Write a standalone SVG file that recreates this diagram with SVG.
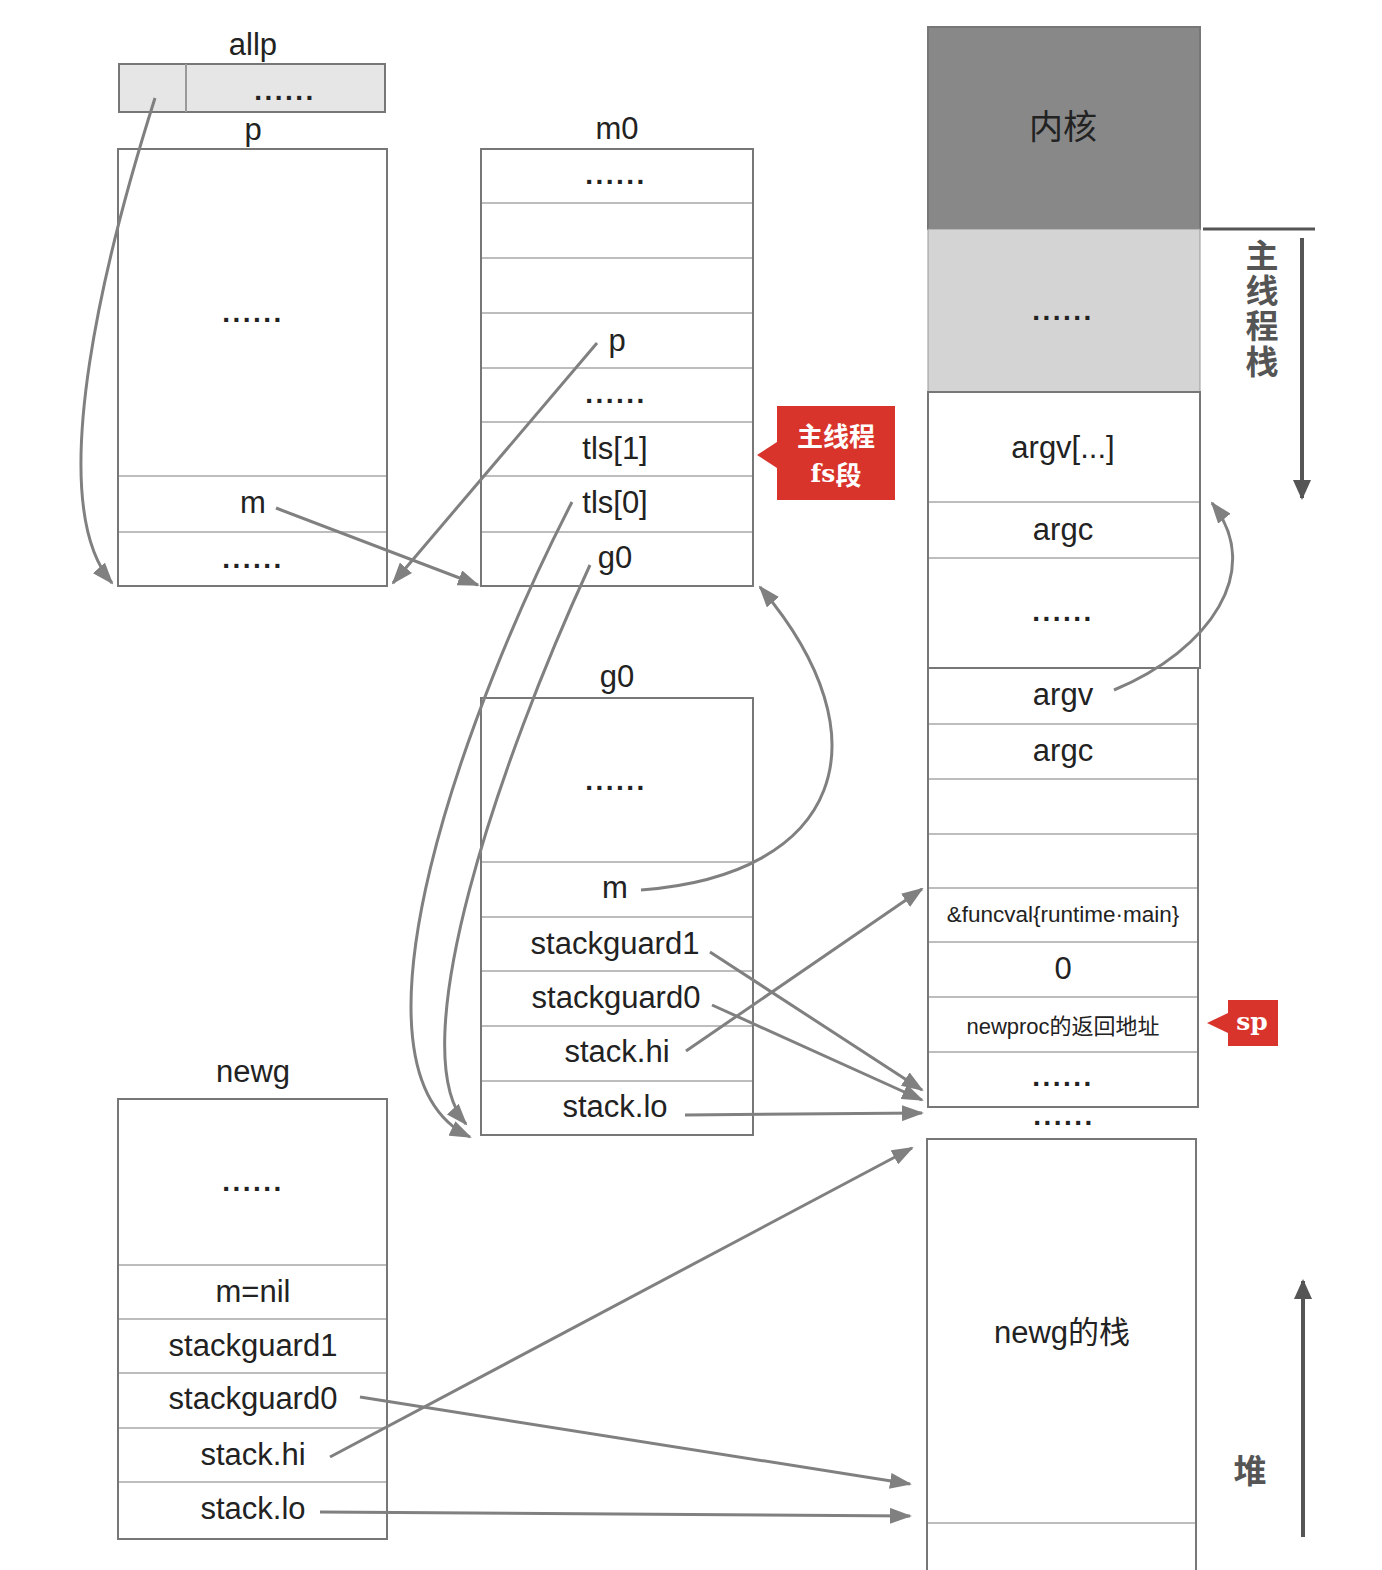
<svg xmlns="http://www.w3.org/2000/svg" width="1382" height="1570" viewBox="0 0 1382 1570">
<defs>
<style>
.box{fill:#fff;stroke:#777;stroke-width:2}
.div{stroke:#bdbdbd;stroke-width:2}
.t{font-family:"Liberation Sans","Noto Sans CJK SC",sans-serif;font-size:31px;fill:#222;text-anchor:middle;dominant-baseline:central}
.d{letter-spacing:2.5px;font-weight:bold;font-size:28px}
.c{fill:none;stroke:#808080;stroke-width:3}
.red{fill:#d9342b}
.w{font-family:"DejaVu Serif","Liberation Serif","Noto Sans CJK SC",serif;font-weight:bold;font-size:25px;fill:#fff;text-anchor:middle;dominant-baseline:central}
.ax{stroke:#555;stroke-width:4;fill:none}
.v{font-size:33px;fill:#555;font-weight:bold}
</style>
<marker id="ah" markerWidth="22" markerHeight="16" refX="20" refY="8" orient="auto" markerUnits="userSpaceOnUse">
<path d="M0,0 L22,8 L0,16 Z" fill="#808080"/>
</marker>
<marker id="ad" markerWidth="20" markerHeight="18" refX="18" refY="9" orient="auto" markerUnits="userSpaceOnUse">
<path d="M0,0 L20,9 L0,18 Z" fill="#555"/>
</marker>
</defs>

<g id="allp">
<text class="t" x="253" y="44">allp</text>
<rect x="119" y="64" width="266" height="48" fill="#e6e6e6" stroke="#777" stroke-width="2"/>
<line x1="186" y1="64" x2="186" y2="112" class="div" style="stroke:#999"/>
<text class="t d" x="285" y="90">......</text>
</g>

<g id="p">
<text class="t" x="253" y="129">p</text>
<rect class="box" x="118" y="149" width="269" height="437"/>
<line class="div" x1="119" y1="476" x2="386" y2="476"/>
<line class="div" x1="119" y1="532" x2="386" y2="532"/>
<text class="t d" x="253" y="312">......</text>
<text class="t" x="253" y="502">m</text>
<text class="t d" x="253" y="558">......</text>
</g>

<g id="m0">
<text class="t" x="617" y="128">m0</text>
<rect class="box" x="481" y="149" width="272" height="437"/>
<line class="div" x1="482" y1="203" x2="752" y2="203"/>
<line class="div" x1="482" y1="258" x2="752" y2="258"/>
<line class="div" x1="482" y1="313" x2="752" y2="313"/>
<line class="div" x1="482" y1="368" x2="752" y2="368"/>
<line class="div" x1="482" y1="422" x2="752" y2="422"/>
<line class="div" x1="482" y1="476" x2="752" y2="476"/>
<line class="div" x1="482" y1="532" x2="752" y2="532"/>
<text class="t d" x="616" y="174">......</text>
<text class="t" x="617" y="340">p</text>
<text class="t d" x="616" y="393">......</text>
<text class="t" x="615" y="448">tls[1]</text>
<text class="t" x="615" y="502">tls[0]</text>
<text class="t" x="615" y="557">g0</text>
</g>

<g id="fs-callout">
<path class="red" d="M777,406 L895,406 L895,500 L777,500 L777,468 L757,455 L777,442 Z"/>
<text class="w" x="836" y="434" style="font-family:'Noto Sans CJK SC',sans-serif;font-size:26px">主线程</text>
<text class="w" x="836" y="473">fs<tspan style="font-family:'Noto Sans CJK SC',sans-serif;font-size:26px">段</tspan></text>
</g>

<g id="g0">
<text class="t" x="617" y="676">g0</text>
<rect class="box" x="481" y="698" width="272" height="437"/>
<line class="div" x1="482" y1="862" x2="752" y2="862"/>
<line class="div" x1="482" y1="917" x2="752" y2="917"/>
<line class="div" x1="482" y1="971" x2="752" y2="971"/>
<line class="div" x1="482" y1="1026" x2="752" y2="1026"/>
<line class="div" x1="482" y1="1081" x2="752" y2="1081"/>
<text class="t d" x="616" y="780">......</text>
<text class="t" x="615" y="887">m</text>
<text class="t" x="615" y="943">stackguard1</text>
<text class="t" x="616" y="997">stackguard0</text>
<text class="t" x="617" y="1051">stack.hi</text>
<text class="t" x="615" y="1106">stack.lo</text>
</g>

<g id="newg">
<text class="t" x="253" y="1071">newg</text>
<rect class="box" x="118" y="1099" width="269" height="440"/>
<line class="div" x1="119" y1="1265" x2="386" y2="1265"/>
<line class="div" x1="119" y1="1319" x2="386" y2="1319"/>
<line class="div" x1="119" y1="1373" x2="386" y2="1373"/>
<line class="div" x1="119" y1="1428" x2="386" y2="1428"/>
<line class="div" x1="119" y1="1482" x2="386" y2="1482"/>
<text class="t d" x="253" y="1181">......</text>
<text class="t" x="253" y="1291">m=nil</text>
<text class="t" x="253" y="1345">stackguard1</text>
<text class="t" x="253" y="1398">stackguard0</text>
<text class="t" x="253" y="1454">stack.hi</text>
<text class="t" x="253" y="1508">stack.lo</text>
</g>

<g id="kernel">
<rect x="928" y="27" width="272" height="202" fill="#888" stroke="#777" stroke-width="2"/>
<text class="t" x="1063" y="127" style="font-size:34px">内核</text>
</g>

<g id="main-stack-top">
<rect x="928" y="229" width="272" height="163" fill="#d4d4d4" stroke="#999" stroke-width="1"/>
<text class="t d" x="1063" y="310">......</text>
<rect class="box" x="928" y="392" width="272" height="276"/>
<line class="div" x1="929" y1="502" x2="1199" y2="502"/>
<line class="div" x1="929" y1="558" x2="1199" y2="558"/>
<text class="t" x="1063" y="447">argv[...]</text>
<text class="t" x="1063" y="529">argc</text>
<text class="t d" x="1063" y="611">......</text>
</g>

<g id="main-stack-frame">
<rect class="box" x="928" y="668" width="270" height="439"/>
<line class="div" x1="929" y1="724" x2="1197" y2="724"/>
<line class="div" x1="929" y1="779" x2="1197" y2="779"/>
<line class="div" x1="929" y1="834" x2="1197" y2="834"/>
<line class="div" x1="929" y1="888" x2="1197" y2="888"/>
<line class="div" x1="929" y1="942" x2="1197" y2="942"/>
<line class="div" x1="929" y1="997" x2="1197" y2="997"/>
<line class="div" x1="929" y1="1052" x2="1197" y2="1052"/>
<text class="t" x="1063" y="694">argv</text>
<text class="t" x="1063" y="750">argc</text>
<text class="t" x="1063" y="914" style="font-size:22.5px">&amp;funcval{runtime·main}</text>
<text class="t" x="1063" y="968">0</text>
<text class="t" x="1063" y="1026" style="font-size:22px">newproc的返回地址</text>
<text class="t d" x="1063" y="1076">......</text>
<text class="t d" x="1064" y="1115">......</text>
</g>

<g id="sp-callout">
<path class="red" d="M1228,1000 L1278,1000 L1278,1046 L1228,1046 L1228,1033 L1207,1023 L1228,1013 Z"/>
<text class="w" x="1252" y="1021">sp</text>
</g>

<g id="newg-stack">
<path d="M927,1570 L927,1139 L1196,1139 L1196,1570" fill="#fff" stroke="#777" stroke-width="2"/>
<line class="div" x1="928" y1="1523" x2="1195" y2="1523"/>
<text class="t" x="1062" y="1332">newg的栈</text>
</g>

<g id="main-thread-stack-label">
<line x1="1203" y1="229" x2="1315" y2="229" stroke="#555" stroke-width="3"/>
<line class="ax" x1="1302" y1="238" x2="1302" y2="498" marker-end="url(#ad)"/>
<text class="t v" x="1262" y="256">主</text>
<text class="t v" x="1262" y="291">线</text>
<text class="t v" x="1262" y="326">程</text>
<text class="t v" x="1262" y="362">栈</text>
</g>

<g id="heap-label">
<line class="ax" x1="1303" y1="1537" x2="1303" y2="1281" marker-end="url(#ad)"/>
<text class="t v" x="1250" y="1471">堆</text>
</g>

<g id="connectors">
<path class="c" d="M155,98 C110,240 40,500 112,583" marker-end="url(#ah)"/>
<path class="c" d="M276,508 L478,585" marker-end="url(#ah)"/>
<path class="c" d="M597,343 L393,583" marker-end="url(#ah)"/>
<path class="c" d="M572,502 C470,700 330,1070 470,1137" marker-end="url(#ah)"/>
<path class="c" d="M590,565 C500,760 400,1050 466,1124" marker-end="url(#ah)"/>
<path class="c" d="M641,890 C840,875 890,740 760,587" marker-end="url(#ah)"/>
<path class="c" d="M1114,690 C1210,650 1265,570 1212,503" marker-end="url(#ah)"/>
<path class="c" d="M710,952 L922,1090" marker-end="url(#ah)"/>
<path class="c" d="M712,1005 L922,1100" marker-end="url(#ah)"/>
<path class="c" d="M686,1051 L922,889" marker-end="url(#ah)"/>
<path class="c" d="M685,1115 L922,1113" marker-end="url(#ah)"/>
<path class="c" d="M360,1397 L910,1484" marker-end="url(#ah)"/>
<path class="c" d="M330,1457 L912,1148" marker-end="url(#ah)"/>
<path class="c" d="M320,1512 L910,1516" marker-end="url(#ah)"/>
</g>
</svg>
